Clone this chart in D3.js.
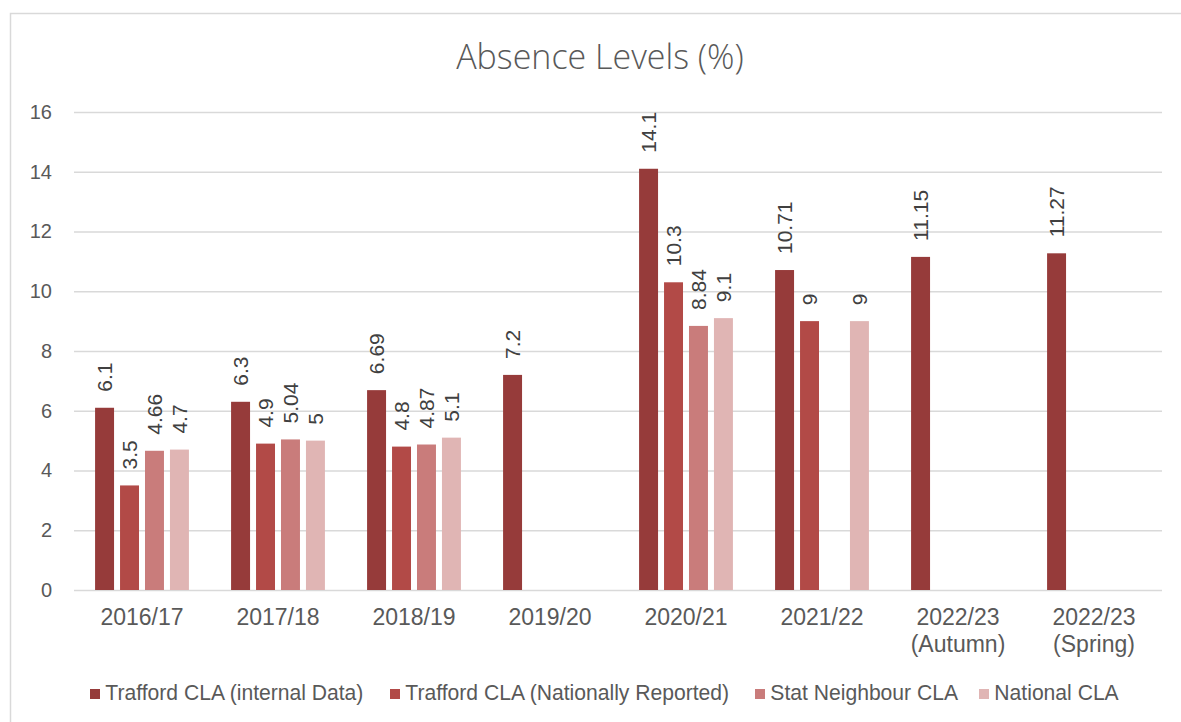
<!DOCTYPE html>
<html lang="en">
<head>
<meta charset="UTF-8">
<title>Absence Levels (%)</title>
<script src="https://cdn.jsdelivr.net/npm/d3@7"></script>
<style>
    body { margin: 0; background: #fff; }
    svg { display: block; }
</style>
</head>
<body>
<svg id="chart" width="1181" height="722"></svg>
<script>
    // chart data
    var categories = ["2016/17", "2017/18", "2018/19", "2019/20", "2020/21", "2021/22", "2022/23\n(Autumn)", "2022/23\n(Spring)"];
    var seriesNames = ["Trafford CLA (internal Data)", "Trafford CLA (Nationally Reported)", "Stat Neighbour CLA", "National CLA"];
    var internalData = [6.1, 6.3, 6.69, 7.2, 14.1, 10.71, 11.15, 11.27];
    var nationallyReported = [3.5, 4.9, 4.8, null, 10.3, 9, null, null];
    var statNeighbour = [4.66, 5.04, 4.87, null, 8.84, null, null, null];
    var nationalCLA = [4.7, 5, 5.1, null, 9.1, 9, null, null];
    var yTicks = [0, 2, 4, 6, 8, 10, 12, 14, 16];
    var colors = ["#963b3a", "#b24a47", "#c97c7b", "#e0b5b4"];

    var seriesValues = [internalData, nationallyReported, statNeighbour, nationalCLA];

    var svg = d3.select("#chart");
    var margin = { top: 112, left: 74, right: 19, bottom: 132 };
    var width = 1181 - margin.left - margin.right,
        height = 722 - margin.top - margin.bottom;

    // outer border (right and bottom edges fall outside the picture)
    svg.append("rect")
        .attr("x", 10.5).attr("y", 13.5)
        .attr("width", 1200).attr("height", 740)
        .style("fill", "none").style("stroke", "#d9d9d9").style("stroke-width", 1.5);

    // title
    svg.append("text")
        .attr("x", 600).attr("y", 69)
        .attr("text-anchor", "middle")
        .style("font", "300 34px 'Open Sans', 'Liberation Sans', sans-serif")
        .style("fill", "#595959")
        .text("Absence Levels (%)");

    var g = svg.append("g")
        .attr("transform", "translate(" + margin.left + "," + margin.top + ")");

    var x0 = d3.scaleBand().domain(categories).range([0, width]).paddingInner(0.31).paddingOuter(0.155);
    var x1 = d3.scaleBand().domain(d3.range(seriesNames.length)).range([0, x0.bandwidth()]).paddingInner(0.24);
    var y = d3.scaleLinear().domain([0, 16]).range([height, 0]);

    // gridlines + y labels
    var yAxis = d3.axisLeft(y).tickValues(yTicks).tickSize(-width).tickPadding(22);
    g.append("g").attr("class", "y axis").call(yAxis)
        .call(function (a) { a.select(".domain").remove(); });
    g.selectAll(".y.axis line")
        .style("stroke", "#d9d9d9").style("stroke-width", 1.5);
    g.selectAll(".y.axis text")
        .style("font", "20px 'Liberation Sans', Arial, sans-serif")
        .style("fill", "#595959");

    // x labels
    var xAxis = d3.axisBottom(x0).tickSize(0).tickPadding(0);
    var xg = g.append("g").attr("class", "x axis")
        .attr("transform", "translate(0," + height + ")")
        .call(xAxis);
    xg.select(".domain").remove();
    xg.selectAll(".tick text").each(function (d) {
        var t = d3.select(this).text("").attr("y", 0).attr("dy", null);
        d.split("\n").forEach(function (line, i) {
            t.append("tspan").attr("x", 0).attr("y", 35 + i * 27).text(line);
        });
    }).style("font", "23px 'Liberation Sans', Arial, sans-serif")
        .style("fill", "#595959");

    // bars
    var groups = g.selectAll(".grp")
        .data(categories)
        .enter().append("g")
        .attr("class", "grp")
        .attr("transform", function (d) { return "translate(" + x0(d) + ",0)"; });

    var cells = groups.selectAll(".cell")
        .data(function (d, ci) {
            return seriesValues.map(function (vals, si) { return { s: si, v: vals[ci] }; })
                .filter(function (c) { return c.v != null; });
        })
        .enter().append("g").attr("class", "cell");

    cells.append("rect")
        .attr("x", function (d) { return x1(d.s); })
        .attr("width", x1.bandwidth())
        .attr("y", function (d) { return y(d.v); })
        .attr("height", function (d) { return height - y(d.v); })
        .style("fill", function (d) { return colors[d.s]; });

    cells.append("text")
        .attr("transform", function (d) {
            return "translate(" + (x1(d.s) + x1.bandwidth() / 2) + "," + (y(d.v) - 16) + ") rotate(-90)";
        })
        .attr("dy", "0.36em")
        .style("font", "21px 'Liberation Sans', Arial, sans-serif")
        .style("fill", "#404040")
        .text(function (d) { return d.v; });

    // legend
    var legendX = [90, 390, 755, 979];
    var legend = svg.append("g").attr("class", "legend");
    var items = legend.selectAll("g").data(seriesNames).enter().append("g")
        .attr("transform", function (d, i) { return "translate(" + legendX[i] + ",689)"; });
    items.append("rect").attr("width", 10).attr("height", 10)
        .style("fill", function (d, i) { return colors[i]; });
    items.append("text")
        .attr("x", 16).attr("y", 11)
        .attr("transform", "scale(0.96,1)")
        .style("font", "22px 'Liberation Sans', Arial, sans-serif")
        .style("fill", "#595959")
        .text(function (d) { return d; });
</script>
</body>
</html>
